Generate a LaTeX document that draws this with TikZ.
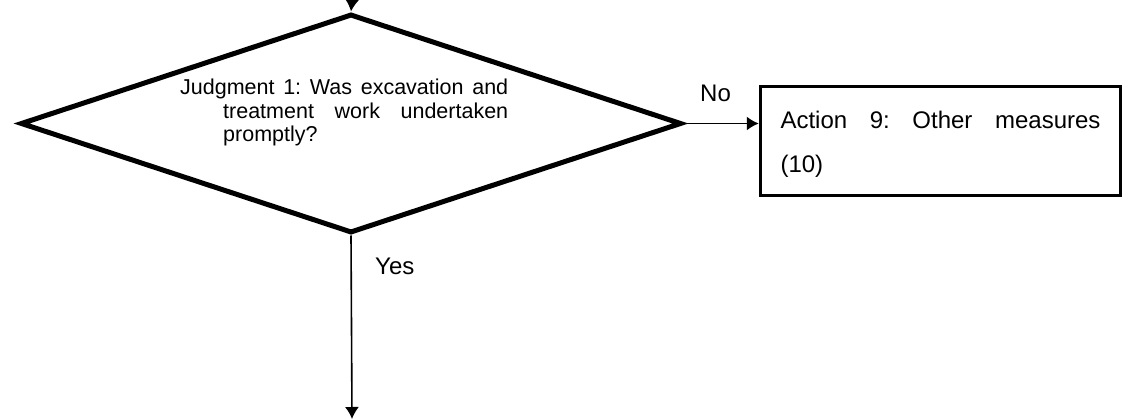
\documentclass[tikz,border=0pt]{standalone}
\usepackage{fontspec}
\setmainfont{Liberation Sans}
\usetikzlibrary{shapes.geometric, arrows.meta}

\begin{document}
\begin{tikzpicture}[x=1pt, y=-1pt, >={Latex[length=12pt, width=14pt]},
  decision/.style={draw, diamond, line width=5pt, minimum width=661pt,
    minimum height=219pt, inner sep=0pt},
  actionbox/.style={draw, rectangle, line width=3.5pt, minimum width=360pt,
    minimum height=109pt, text width=320pt, align=justify,
    font=\fontsize{24}{44}\selectfont},
  flow/.style={->, line width=1.6pt},
  lbl/.style={inner sep=0pt, font=\fontsize{24}{28}\selectfont}]

\useasboundingbox (0,0) rectangle (1130,419);
\hbadness=10000
\frenchspacing

% Judgment diamond and its text
\node [decision] (judge) at (351,123.5) {};
\node [anchor=north west, inner sep=0pt, text width=328pt, align=justify,
  font=\fontsize{21.5}{23.5}\selectfont] (judgetext) at (180,79)
  {\hangindent=43pt\hangafter=1 Judgment 1: Was excavation and\linebreak
   treatment work undertaken\linebreak promptly?\par};

% Action box
\node [actionbox] (action) at (940.5,141)
  {\rule{0pt}{23pt}Action 9: Other measures\linebreak (10)};

% Connectors in and out
\coordinate (enter) at (352,0);
\coordinate (next) at (352,419);
\draw [flow] (enter) -- (judge.north);
\draw [flow] (judge.east) -- (judge.east -| action.west);
\draw [flow] (judge.south) -- (next);

% Branch labels
\node [lbl, anchor=base west] (nolbl) at (700,102) {No};
\node [lbl, anchor=base west] (yeslbl) at (375,275) {Yes};

\end{tikzpicture}
\end{document}
